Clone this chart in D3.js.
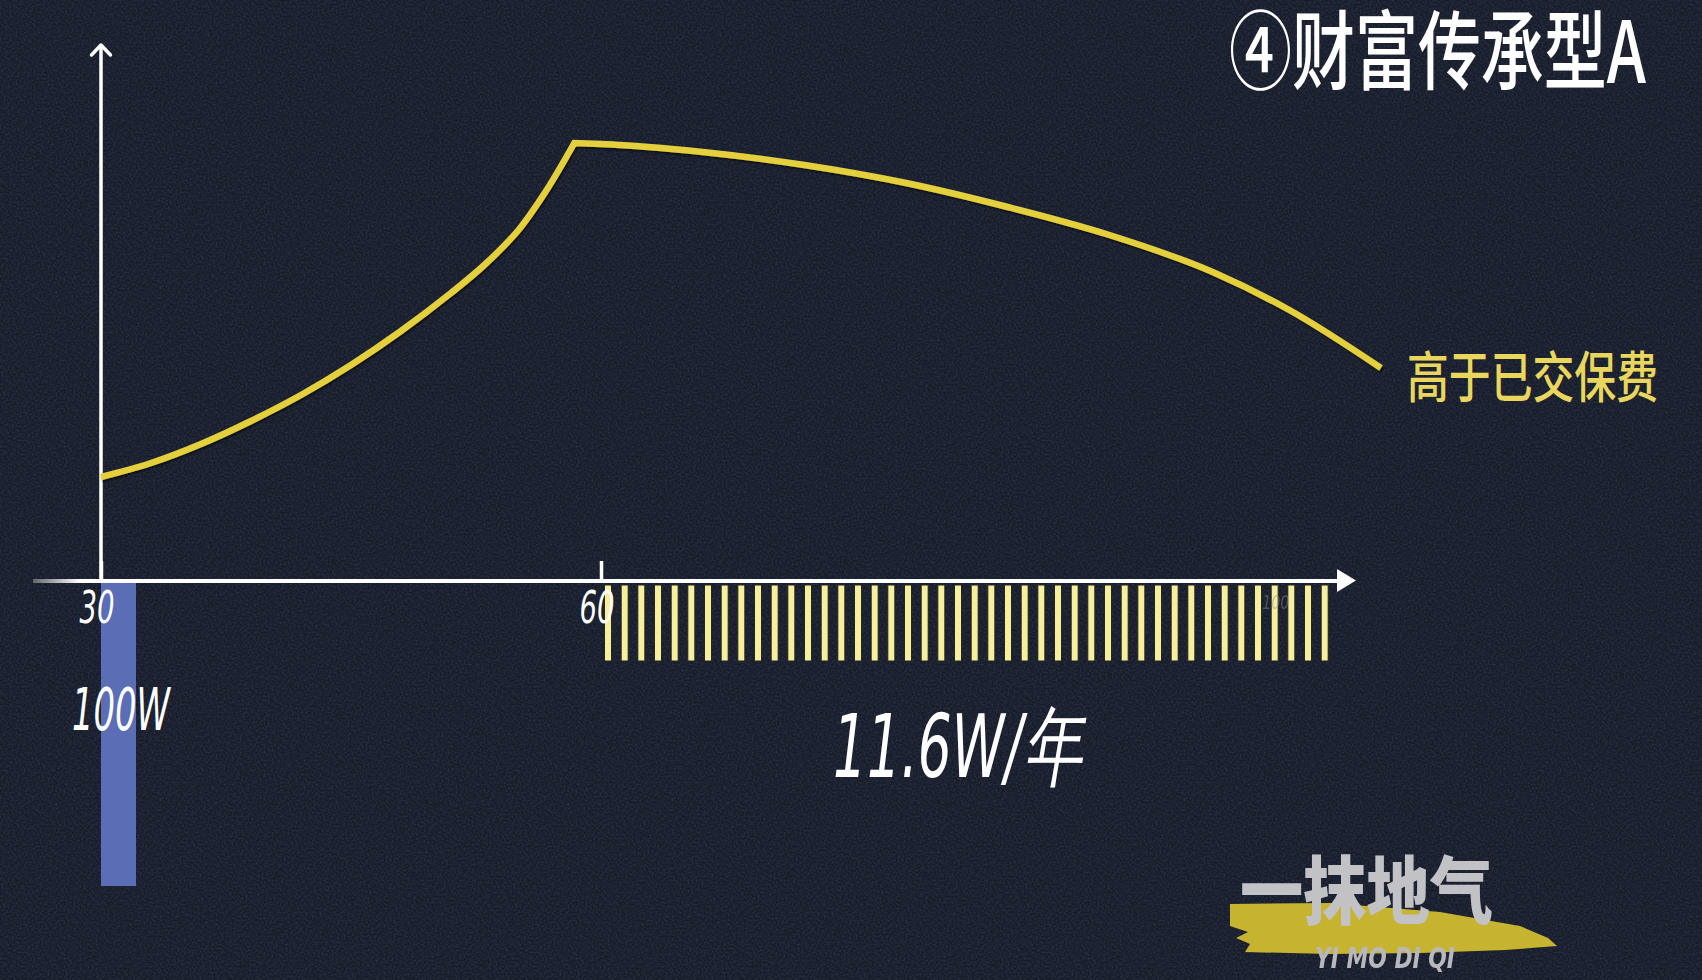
<!DOCTYPE html>
<html>
<head>
<meta charset="utf-8">
<script src="https://cdn.jsdelivr.net/npm/d3@7"></script>
<style>
  html, body { margin: 0; padding: 0; background: #171c2b; }
  svg { display: block; }
</style>
</head>
<body>
<svg id="chart" width="1702" height="980"></svg>
<script>
// ages (x) and value of the policy (arbitrary units)
const riseAges   = [30, 33, 36, 39, 42, 45, 48, 51, 53, 55, 56.7, 58.4];
const riseValues = [104, 118, 137, 160, 186, 216, 250, 288, 316, 350, 390, 438];
const fallAges   = [58.4, 60, 66.1, 72.2, 78.3, 84.4, 90.5, 96.7, 101.3, 106.8];
const fallValues = [438, 437, 429, 416, 398, 374, 346, 309, 271, 213];

// one stripe per paid year, 11.6W each
const payAges = [60, 61, 62, 63, 64, 65, 66, 67, 68, 69, 70, 71, 72, 73, 74, 75, 76, 77, 78, 79, 80,
  81, 82, 83, 84, 85, 86, 87, 88, 89, 90, 91, 92, 93, 94, 95, 96, 97, 98, 99, 100, 101, 102, 103];
const premium = [{ age: 30, amount: 100 }];

const tickAges = [30, 60, 100];
const tickLabels = ["30", "60", "100"];

const titleText = "④财富传承型A";
const curveLabel = "高于已交保费";
const premiumLabel = "100W";
const payLabel = "11.6W/年";

var svg = d3.select("#chart");
var defs = svg.append("defs");

// paper grain
var grain = defs.append("filter").attr("id", "grain")
  .attr("x", 0).attr("y", 0).attr("width", "100%").attr("height", "100%");
grain.append("feTurbulence").attr("type", "fractalNoise")
  .attr("baseFrequency", 0.5).attr("numOctaves", 4).attr("seed", 7);
grain.append("feColorMatrix").attr("type", "matrix")
  .attr("values", "0 0 0 0 0.45  0 0 0 0 0.52  0 0 0 0 0.7  0.9 0 0 0 -0.32");

var shadow = defs.append("filter").attr("id", "shadow")
  .attr("x", "-5%").attr("y", "-5%").attr("width", "110%").attr("height", "110%");
shadow.append("feDropShadow").attr("dx", 1).attr("dy", 1.5)
  .attr("stdDeviation", 1.2).attr("flood-color", "#000").attr("flood-opacity", 0.7);

var fade = defs.append("linearGradient").attr("id", "axisFade")
  .attr("gradientUnits", "userSpaceOnUse").attr("x1", 33).attr("x2", 80).attr("y1", 0).attr("y2", 0);
fade.append("stop").attr("offset", 0).attr("stop-color", "#fff").attr("stop-opacity", 0.3);
fade.append("stop").attr("offset", 1).attr("stop-color", "#fff").attr("stop-opacity", 1);

svg.append("rect").attr("width", 1702).attr("height", 980).attr("fill", "#171c2b");
svg.append("rect").attr("width", 1702).attr("height", 980)
  .attr("filter", "url(#grain)").attr("opacity", 0.3);

var x = d3.scaleLinear().domain([30, 60]).range([101, 601]);
var y = d3.scaleLinear().domain([0, 500]).range([581, 81]);
var barH = d3.scaleLinear().domain([0, 100]).range([0, 303]);

var numFont = "'Liberation Sans Narrow', 'DejaVu Sans Condensed', 'Roboto', sans-serif";
var cjkFont = "'Noto Sans CJK SC', 'Noto Sans', sans-serif";

// squeeze a text horizontally to a given width, keeping the real box
function fitText(parent, str, x0, y0, width, attrs) {
  var g = parent.append("g");
  var t = g.append("text").text(str);
  Object.keys(attrs).forEach(k => t.attr(k, attrs[k]));
  var w = t.node().getComputedTextLength();
  g.attr("transform", "translate(" + x0 + "," + y0 + ") scale(" + (width / w) + ",1)");
  return t;
}

// premium bar (paid once at 30)
svg.selectAll("rect.premium").data(premium).enter().append("rect")
  .attr("class", "premium")
  .attr("x", d => x(d.age))
  .attr("y", 583)
  .attr("width", 35)
  .attr("height", d => barH(d.amount))
  .attr("fill", "#5a6db5");

// yearly payout stripes
svg.selectAll("rect.pay").data(payAges).enter().append("rect")
  .attr("class", "pay")
  .attr("x", d => x(d) + 3.5)
  .attr("y", 585)
  .attr("width", 7)
  .attr("height", 76)
  .attr("fill", "#f6ef9e")
  .attr("stroke", "#23251f")
  .attr("stroke-width", 1);

// x axis
var xAxis = d3.axisBottom(x).tickValues(tickAges)
  .tickFormat((d, i) => tickLabels[i])
  .tickSize(-20).tickPadding(10);
var gx = svg.append("g").attr("transform", "translate(0,581)").call(xAxis);
gx.select(".domain").remove();
gx.selectAll(".tick line").attr("stroke", "#fff").attr("stroke-width", 3.5)
  .attr("opacity", d => d === 100 ? 0 : 1);
gx.selectAll(".tick text")
  .attr("fill", d => d === 100 ? "#8a8d96" : "#fff")
  .attr("opacity", d => d === 100 ? 0.45 : 1)
  .attr("font-family", numFont)
  .attr("font-style", "italic")
  .attr("font-size", d => d === 100 ? 20 : 44)
  .attr("text-anchor", "start")
  .attr("x", d => d === 100 ? -6 : -22)
  .attr("dy", d => d === 100 ? "0.9em" : "0.72em")
  .attr("textLength", d => d === 100 ? 27 : 35)
  .attr("lengthAdjust", "spacingAndGlyphs");

svg.append("line")
  .attr("x1", 33).attr("x2", 1344).attr("y1", 581).attr("y2", 581)
  .attr("stroke", "url(#axisFade)").attr("stroke-width", 4);
svg.append("path")
  .attr("d", "M1337,569 L1356,580.5 L1337,592 Z")
  .attr("fill", "#fff");

// y axis with open arrow
svg.append("line")
  .attr("x1", x(30)).attr("x2", x(30)).attr("y1", 46).attr("y2", 582)
  .attr("stroke", "#fff").attr("stroke-width", 3.5);
svg.append("path")
  .attr("d", "M" + (x(30) - 9.5) + ",55 L" + x(30) + ",45 L" + (x(30) + 9.5) + ",55")
  .attr("fill", "none").attr("stroke", "#fff").attr("stroke-width", 3.5)
  .attr("stroke-linecap", "round").attr("stroke-linejoin", "round");

// value curve: rising part then declining part, joined at a sharp peak
var riseLine = d3.line().x(d => x(d[0])).y(d => y(d[1])).curve(d3.curveCatmullRom.alpha(0.5));
var fallLine = d3.line().x(d => x(d[0])).y(d => y(d[1])).curve(d3.curveMonotoneX);
var rise = riseAges.map((a, i) => [a, riseValues[i]]);
var fall = fallAges.map((a, i) => [a, fallValues[i]]);
svg.append("path")
  .attr("d", riseLine(rise) + fallLine(fall).replace(/^M/, "L"))
  .attr("fill", "none")
  .attr("stroke", "#e4cf3e")
  .attr("stroke-width", 6.5)
  .attr("stroke-linejoin", "miter")
  .attr("filter", "url(#shadow)");

// texts
fitText(svg, curveLabel, 1407, 397, 251, {
  "font-family": cjkFont, "font-weight": 500, "font-size": 55, "fill": "#e9d75d"
});

fitText(svg, titleText, 1229, 83, 417, {
  "font-family": cjkFont, "font-weight": 500, "font-size": 86, "fill": "#fff"
});

fitText(svg, premiumLabel, 72, 730, 98, {
  "font-family": numFont, "font-style": "italic", "font-size": 58, "fill": "#fff"
});

fitText(svg, payLabel, 833, 777, 249, {
  "font-family": numFont, "font-style": "italic", "font-size": 88, "fill": "#fff"
});

// watermark
var wm = svg.append("g").attr("opacity", 0.9);
wm.append("path")
  .attr("d", "M1230,904 L1330,903 L1440,912 L1520,926 L1548,938 L1557,946 L1505,950 L1420,953 " +
    "L1330,954 L1245,952 L1250,944 L1236,938 L1248,932 L1230,926 Z")
  .attr("fill", "#d9c431");
fitText(wm, "一抹地气", 1240, 918, 253, {
  "font-family": cjkFont, "font-weight": 900, "font-size": 74, "fill": "#d4d4d6"
});
fitText(wm, "YI MO DI QI", 1315, 968, 140, {
  "font-family": numFont, "font-style": "italic", "font-weight": 700, "font-size": 28, "fill": "#c9c9cc"
});
</script>
</body>
</html>
